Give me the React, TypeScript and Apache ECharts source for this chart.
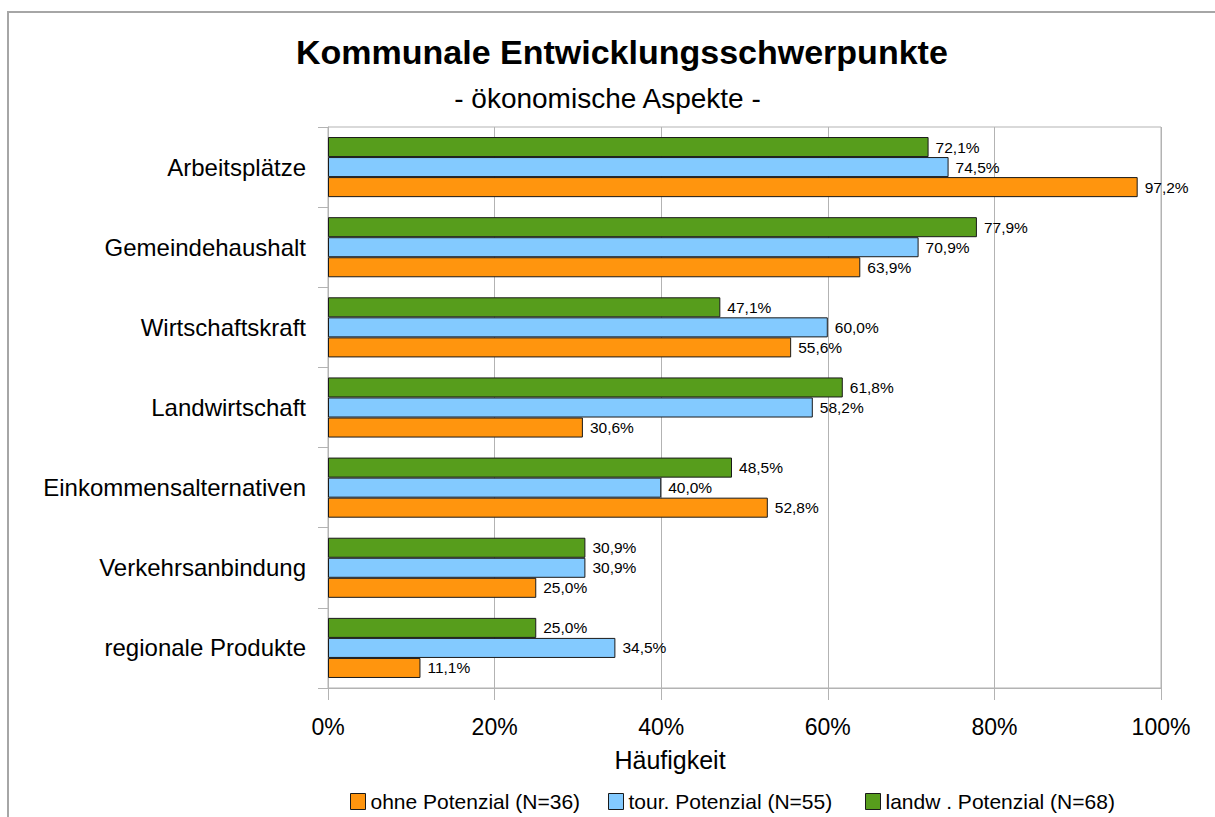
import React, { useEffect, useRef } from "react";
import * as echarts from "echarts";

const categories = [
  "Arbeitsplätze",
  "Gemeindehaushalt",
  "Wirtschaftskraft",
  "Landwirtschaft",
  "Einkommensalternativen",
  "Verkehrsanbindung",
  "regionale Produkte",
];
const seriesNames = ["ohne Potenzial (N=36)", "tour. Potenzial (N=55)", "landw . Potenzial (N=68)"];
const ohneValues = [97.2, 63.9, 55.6, 30.6, 52.8, 25.0, 11.1];
const tourValues = [74.5, 70.9, 60.0, 58.2, 40.0, 30.9, 34.5];
const landwValues = [72.1, 77.9, 47.1, 61.8, 48.5, 30.9, 25.0];
const xTicks = [0, 20, 40, 60, 80, 100];
const colors = ["#ff950e", "#83caff", "#579d1c"];

const FONT = "'Liberation Sans', Arial, sans-serif";

export default function App() {
  const ref = useRef<HTMLDivElement>(null);
  useEffect(() => {
    if (!ref.current) return;
    const chart = echarts.init(ref.current, null, { renderer: "svg" });
    const label = {
      show: true,
      position: "right",
      distance: 7,
      fontSize: 15.5,
      fontFamily: FONT,
      color: "#000",
      formatter: (p: any) => p.value.toFixed(1).replace(".", ",") + "%",
    };
    const mk = (name: string, data: number[], color: string) => ({
      name,
      type: "bar",
      data,
      barGap: "0%",
      barCategoryGap: "25%",
      itemStyle: { color, borderColor: "#1a1a1a", borderWidth: 1 },
      label,
    });
    const legendBase = {
      top: 786,
      itemWidth: 15,
      itemHeight: 16,
      itemGap: 10,
      icon: "rect",
      textStyle: { fontSize: 21, fontFamily: FONT, color: "#000" },
      itemStyle: { borderColor: "#1a1a1a", borderWidth: 1 },
      selectedMode: false,
    };
    chart.setOption({
      animation: false,
      textStyle: { fontFamily: FONT },
      title: [
        {
          text: "Kommunale Entwicklungsschwerpunkte",
          left: 291,
          top: 30,
          textStyle: { fontSize: 34, fontWeight: "bold", color: "#000", fontFamily: FONT },
        },
        {
          text: "- ökonomische Aspekte -",
          left: "center",
          top: 79,
          textStyle: { fontSize: 28, fontWeight: "normal", color: "#000", fontFamily: FONT },
        },
      ],
      legend: [
        { ...legendBase, left: 345, data: [seriesNames[0]] },
        { ...legendBase, left: 603, data: [seriesNames[1]] },
        { ...legendBase, left: 860, data: [seriesNames[2]] },
      ],
      grid: {
        left: 328,
        top: 127,
        width: 833,
        height: 561,
        show: true,
        borderColor: "#b3b3b3",
        borderWidth: 1,
        containLabel: false,
      },
      xAxis: {
        type: "value",
        min: xTicks[0],
        max: xTicks[xTicks.length - 1],
        interval: 20,
        axisLine: { show: true, lineStyle: { color: "#b3b3b3" } },
        axisTick: { show: true, length: 12, lineStyle: { color: "#b3b3b3" } },
        splitLine: { show: true, lineStyle: { color: "#b3b3b3" } },
        axisLabel: {
          margin: 27,
          fontSize: 23,
          color: "#000",
          fontFamily: FONT,
          formatter: "{value}%",
        },
      },
      yAxis: {
        type: "category",
        data: categories,
        inverse: true,
        axisLine: { show: true, lineStyle: { color: "#b3b3b3" } },
        axisTick: { show: true, length: 10, lineStyle: { color: "#b3b3b3" } },
        axisLabel: { margin: 22, fontSize: 24, color: "#000", fontFamily: FONT },
      },
      graphic: [
        {
          type: "rect",
          shape: { x: 8, y: 12, width: 1240, height: 840 },
          style: { fill: "none", stroke: "#a6a6a6", lineWidth: 2 },
          silent: true,
        },
        {
          type: "text",
          x: 670,
          y: 760,
          style: {
            text: "Häufigkeit",
            fontSize: 25,
            fontFamily: FONT,
            fill: "#000",
            align: "center",
            verticalAlign: "middle",
          },
        },
      ],
      series: [
        mk(seriesNames[2], landwValues, colors[2]),
        mk(seriesNames[1], tourValues, colors[1]),
        mk(seriesNames[0], ohneValues, colors[0]),
      ],
    });
    return () => chart.dispose();
  }, []);
  return (
    <div
      ref={ref}
      style={{ position: "fixed", left: 0, top: 0, width: 1215, height: 817, background: "#fff" }}
    />
  );
}
